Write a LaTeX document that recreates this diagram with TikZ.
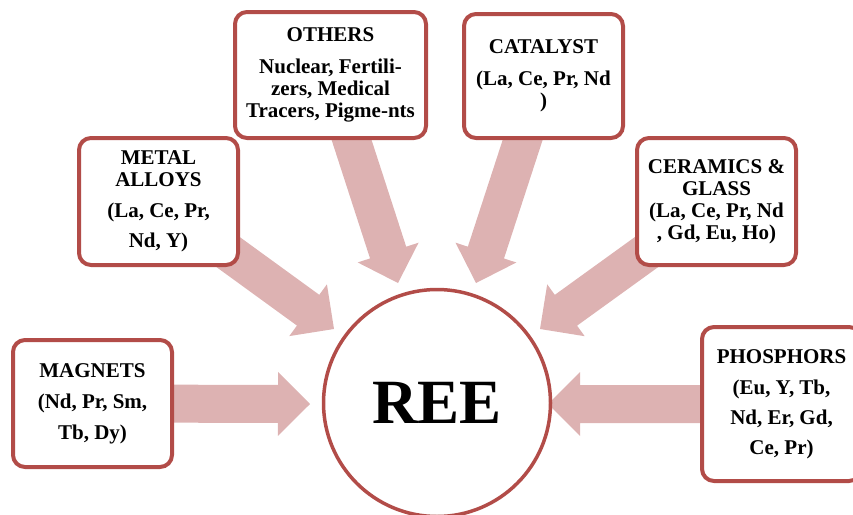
\documentclass[tikz,border=0pt]{standalone}
\usepackage{fontspec}
\setmainfont{Liberation Serif}
\usetikzlibrary{calc}
\definecolor{boxred}{RGB}{178,76,72}
\definecolor{arrowpink}{RGB}{221,178,178}
\tikzset{
  usebox/.style={draw=boxred, line width=4pt, rounded corners=12pt, fill=white,
    align=center, inner sep=2pt, minimum width=159pt, minimum height=127pt,
    font=\bfseries\fontsize{21}{22}\selectfont},
  hub/.style={circle, draw=boxred, line width=3.5pt, fill=white, inner sep=0pt,
    minimum size=227pt, font=\bfseries\fontsize{63}{70}\selectfont},
  pinkfill/.style={fill=arrowpink}
}
% block arrow from the centre of #1 to the point #2
\newcommand\reearrow[2]{%
  \coordinate (hb) at ($(#2)!32pt!(#1)$);
  \fill[pinkfill] ($(#1)!19pt!90:(#2)$) -- ($(hb)!19pt!90:(#2)$) --
    ($(hb)!32pt!90:(#2)$) -- (#2) -- ($(hb)!32pt!-90:(#2)$) --
    ($(hb)!19pt!-90:(#2)$) -- ($(#1)!19pt!-90:(#2)$) -- cycle;
}
\begin{document}
\begin{tikzpicture}[x=1pt,y=-1pt]
\useasboundingbox (0,0) rectangle (853,514);
\clip (0,0) rectangle (853,514);

% centres of the boxes and tips of the arrows
\coordinate (cMag) at (92.5,403.5);
\coordinate (cMet) at (158.5,201.5);
\coordinate (cOth) at (330.5,75);
\coordinate (cCat) at (543.5,76);
\coordinate (cCer) at (716.5,201.5);
\coordinate (cPho) at (781.5,404);

\coordinate (tMag) at (310,404);
\coordinate (tMet) at (334,329);
\coordinate (tOth) at (398,283);
\coordinate (tCat) at (476,283);
\coordinate (tCer) at (540,329);
\coordinate (tPho) at (548,404);

% arrows into the hub
\reearrow{cMag}{tMag}
\reearrow{cMet}{tMet}
\reearrow{cOth}{tOth}
\reearrow{cCat}{tCat}
\reearrow{cCer}{tCer}
\reearrow{cPho}{tPho}

% application boxes
\node[usebox] (magnets) at (cMag) {MAGNETS\\[9pt](Nd, Pr, Sm,\\[9pt]Tb, Dy)};
\node[usebox] (metal) at (cMet) {METAL\\ALLOYS\\[9pt](La, Ce, Pr,\\[8pt]Nd, Y)};
\node[usebox, minimum width=191pt, minimum height=126pt] (others) at (cOth)
  {OTHERS\\[10pt]Nuclear, Fertili-\\zers, Medical\\Tracers, Pigme-nts};
\node[usebox, minimum height=124pt] (catalyst) at (cCat) {CATALYST\\[10pt](La, Ce, Pr, Nd\\)};
\node[usebox] (ceramics) at (cCer) {CERAMICS \&\\GLASS\\(La, Ce, Pr, Nd\\, Gd, Eu, Ho)};
\node[usebox, minimum height=154pt] (phosphors) at (cPho)
  {PHOSPHORS\\[9pt](Eu, Y, Tb,\\[8pt]Nd, Er, Gd,\\[8pt]Ce, Pr)};

% central hub
\node[hub] (ree) at (437,403) {REE};
\end{tikzpicture}
\end{document}
